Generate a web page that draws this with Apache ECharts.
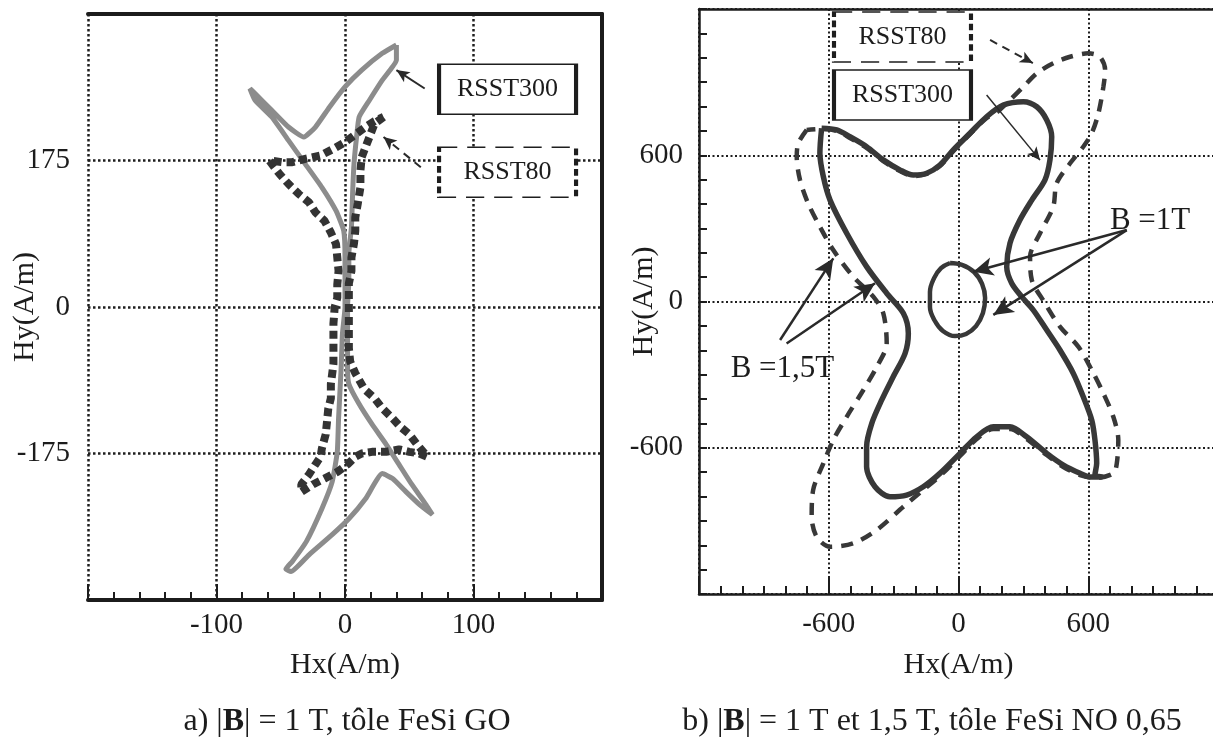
<!DOCTYPE html>
<html><head><meta charset="utf-8">
<script src="https://cdn.jsdelivr.net/npm/echarts@6/dist/echarts.min.js"></script>
<style>html,body{margin:0;padding:0;background:#fff}#c{width:1213px;height:739px}</style>
</head><body><div id="c"></div>
<script>
// ---------- tick labels ----------
const leftXTickLabels = [-100, 0, 100];
const leftYTickLabels = [-175, 0, 175];
const rightXTickLabels = [-600, 0, 600];
const rightYTickLabels = [-600, 0, 600];

// ---------- a) FeSi GO, |B| = 1 T ----------
const goRSST300 = [[40,313],[29,303],[13,283],[0,263],[-12,239],[-23,215],[-32,203],[-44,215],[-57,235],[-70,255],[-74,261],[-70,247],[-57,227],[-44,199],[-31,171],[-18,143],[-7,115],[-1,91],[0,59],[0,31],[0,0],[-2,-32],[-3,-73],[-5,-133],[-6,-173],[-10,-209],[-18,-241],[-30,-280],[-41,-304],[-46,-313],[-42,-316],[-28,-296],[-10,-272],[3,-253],[16,-229],[29,-199],[37,-205],[47,-220],[58,-236],[68,-248],[63,-236],[52,-212],[42,-188],[32,-164],[21,-140],[11,-116],[3,-92],[2,-73],[2,-32],[2,0],[3,31],[3,64],[5,95],[6,139],[7,171],[9,203],[11,227],[19,247],[29,271],[40,295],[40,313]];
const goRSST80 = [[30,227],[23,219],[20,207],[16,191],[13,179],[12,163],[12,143],[10,124],[8,107],[8,91],[7,76],[5,59],[5,43],[3,28],[3,0],[3,-17],[3,-32],[3,-49],[4,-65],[8,-79],[15,-98],[23,-109],[29,-121],[37,-133],[43,-143],[50,-152],[56,-164],[62,-175],[64,-179],[58,-175],[50,-173],[42,-170],[32,-173],[21,-173],[13,-175],[8,-179],[2,-188],[-6,-197],[-16,-205],[-25,-212],[-34,-221],[-34,-212],[-28,-200],[-23,-188],[-19,-179],[-18,-169],[-15,-152],[-14,-137],[-13,-121],[-11,-109],[-11,-92],[-9,-68],[-9,-53],[-9,-37],[-9,-20],[-8,0],[-6,11],[-6,27],[-5,43],[-6,59],[-7,75],[-11,89],[-16,103],[-23,113],[-28,125],[-36,135],[-44,147],[-51,159],[-59,175],[-49,173],[-41,173],[-31,177],[-19,181],[-9,189],[0,197],[8,206],[16,215],[23,222],[30,227]];

// ---------- b) FeSi NO 0,65 ----------
const no15RSST300 = [[-633,711],[-563,704],[-502,676],[-425,635],[-348,581],[-271,540],[-209,519],[-147,526],[-86,560],[-24,622],[53,690],[130,758],[207,806],[300,820],[362,799],[408,745],[431,676],[423,581],[400,499],[339,416],[284,334],[238,239],[223,143],[246,75],[292,20],[346,-35],[408,-117],[469,-199],[531,-295],[577,-391],[616,-486],[631,-568],[639,-664],[631,-712],[662,-719],[608,-720],[562,-705],[485,-671],[408,-623],[315,-555],[238,-514],[161,-514],[84,-555],[7,-623],[-86,-705],[-163,-760],[-240,-794],[-317,-801],[-386,-760],[-425,-678],[-425,-596],[-401,-500],[-355,-404],[-302,-309],[-247,-213],[-232,-131],[-255,-48],[-332,34],[-425,143],[-517,280],[-594,416],[-625,512],[-641,608],[-633,711]];
const no15RSST80 = [[-702,704],[-741,649],[-748,594],[-733,499],[-696,404],[-641,307],[-579,211],[-487,102],[-394,20],[-348,-48],[-332,-172],[-378,-268],[-440,-363],[-517,-473],[-579,-568],[-625,-664],[-672,-773],[-679,-883],[-656,-965],[-594,-1006],[-487,-992],[-378,-937],[-255,-842],[-163,-773],[-86,-716],[7,-634],[84,-564],[161,-523],[238,-523],[315,-564],[408,-630],[485,-679],[562,-712],[631,-724],[716,-705],[732,-664],[739,-568],[716,-473],[670,-377],[616,-281],[554,-185],[469,-103],[400,-7],[339,88],[331,184],[377,280],[438,389],[454,485],[516,567],[577,635],[616,690],[647,772],[670,881],[678,950],[654,1004],[600,1018],[516,1004],[438,977],[362,936],[300,881],[238,827],[178,777],[130,753],[53,687],[-24,617],[-86,556],[-147,523],[-209,515],[-271,535],[-348,576],[-425,630],[-502,671],[-563,700],[-633,708],[-702,704]];
const no10RSST300 = [[-39,158],[16,150],[72,121],[109,72],[123,14],[113,-47],[81,-101],[35,-133],[-16,-142],[-72,-121],[-109,-80],[-132,-23],[-132,39],[-113,96],[-81,137],[-39,158]];

// ---------- annotation placement (data coords) ----------
const notesLeft = [
  {at:[126.5,260], text:'RSST300', dash:false},
  {at:[126.5,161], text:'RSST80', dash:true}
];
const notesRight = [
  {at:[-259,847], text:'RSST300', dash:false},
  {at:[-259,1085], text:'RSST80', dash:true}
];
const bigNotesRight = [
  {at:[886,330], text:'B =1T'},
  {at:[-814,-277], text:'B =1,5T'}
];
const arrowsLeft = [
  {from:[62,261], to:[40,283], dash:false},
  {from:[59,167], to:[30,203], dash:true}
];
const arrowsRight = [
  {from:[146,1073], to:[344,978], dash:true, w:2},
  {from:[130,847], to:[377,580], dash:false, w:1.5},
  {from:[778,293], to:[68,122], dash:false, w:2.5, big:true},
  {from:[778,293], to:[161,-55], dash:false, w:2.5, big:true},
  {from:[-825,-158], to:[-579,177], dash:false, w:2.5, big:true},
  {from:[-795,-172], to:[-386,75], dash:false, w:2.5, big:true}
];

const FONT = 'Liberation Serif';
const INK = '#1c1c1c';
const CURVE = '#383838';
const lbl = list => v => (list.indexOf(v) >= 0 ? String(v) : '');

function boxPoint(n) {
  return {
    coord: n.at, symbol: 'rect', symbolSize: [137, 50],
    itemStyle: {color: '#fff', borderColor: '#1e1e1e', borderWidth: 2.5,
      borderType: n.dash ? [11, 6] : 'solid'},
    label: {show: true, position: 'inside', formatter: n.text, fontFamily: FONT,
      fontSize: 26, color: INK, textBorderWidth: 0}
  };
}
function bigPoint(n) {
  return {
    coord: n.at, symbol: 'rect', symbolSize: [1, 1], itemStyle: {color: 'rgba(255,255,255,0)', borderWidth: 0},
    label: {show: true, position: 'inside', formatter: n.text, fontFamily: FONT,
      fontSize: 31, color: INK, textBorderWidth: 0}
  };
}
function markPts(list) {
  return {silent: true, animation: false, emphasis: {disabled: true}, data: list};
}
function arrowItem(a) {
  return [
    {coord: a.from, symbol: 'none'},
    {coord: a.to, symbol: 'arrow', symbolSize: a.big ? [14, 20] : [9, 13],
     lineStyle: {type: a.dash ? [8, 6] : 'solid', width: a.w || 2, color: '#2a2a2a'}}
  ];
}
function markArrows(list) {
  return { silent: true, animation: false, symbol: ['none', 'arrow'], label: {show: false},
    lineStyle: {color: '#2a2a2a', width: 2, type: 'solid'}, emphasis: {disabled: true},
    data: list.map(arrowItem) };
}

const axisFont = {fontFamily: FONT, fontSize: 29, color: INK};
const nameFont = {fontFamily: FONT, fontSize: 30, color: INK};

const option = {
  animation: false,
  grid: [
    {left: 88, top: 14, width: 514, height: 586, outerBoundsMode: 'none', containLabel: false},
    {left: 699, top: 9, width: 519, height: 585, outerBoundsMode: 'none', containLabel: false}
  ],
  xAxis: [
    {gridIndex: 0, type: 'value', min: -200, max: 200, interval: 100, position: 'bottom',
     axisLine: {onZero: false, lineStyle: {color: INK, width: 4}},
     axisTick: {inside: true, length: 16, lineStyle: {color: INK, width: 2}},
     minorTick: {show: true, splitNumber: 5, length: 8, lineStyle: {color: INK, width: 2}},
     splitLine: {show: true, lineStyle: {type: [2.5, 2.5], width: 2.5, color: '#1e1e1e'}},
     axisLabel: Object.assign({formatter: lbl(leftXTickLabels), margin: 11}, axisFont),
     name: 'Hx(A/m)', nameLocation: 'middle', nameGap: 50, nameMoveOverlap: false, nameTextStyle: nameFont},
    {gridIndex: 1, type: 'value', min: -1200, max: 1200, interval: 600, position: 'bottom',
     axisLine: {onZero: false, lineStyle: {color: INK, width: 2.5}},
     axisTick: {inside: true, length: 16, lineStyle: {color: INK, width: 2}},
     minorTick: {show: true, splitNumber: 6, length: 8, lineStyle: {color: INK, width: 2}},
     splitLine: {show: true, lineStyle: {type: [2, 2.5], width: 2, color: '#1e1e1e'}},
     axisLabel: Object.assign({formatter: lbl(rightXTickLabels), margin: 16}, axisFont),
     name: 'Hx(A/m)', nameLocation: 'middle', nameGap: 56, nameMoveOverlap: false, nameTextStyle: nameFont},
    {gridIndex: 0, type: 'value', min: -200, max: 200, position: 'top',
     axisLine: {onZero: false, lineStyle: {color: INK, width: 4}}, axisTick: {show: false},
     axisLabel: {show: false}, splitLine: {show: false}},
    {gridIndex: 1, type: 'value', min: -1200, max: 1200, position: 'top',
     axisLine: {onZero: false, lineStyle: {color: INK, width: 2.5}}, axisTick: {show: false},
     axisLabel: {show: false}, splitLine: {show: false}}
  ],
  yAxis: [
    {gridIndex: 0, type: 'value', min: -350, max: 350, interval: 175, position: 'left',
     axisLine: {show: false, onZero: false}, axisTick: {show: false},
     splitLine: {show: true, lineStyle: {type: [2.5, 2.5], width: 2.5, color: '#1e1e1e'}},
     axisLabel: Object.assign({formatter: lbl(leftYTickLabels), margin: 18}, axisFont),
     name: 'Hy(A/m)', nameLocation: 'middle', nameGap: 48, nameRotate: 90, nameMoveOverlap: false, nameTextStyle: nameFont},
    {gridIndex: 1, type: 'value', min: -1200, max: 1200, interval: 600, position: 'left',
     axisLine: {show: true, onZero: false, lineStyle: {color: INK, width: 2.5}},
     axisTick: {show: true, inside: true, length: 8, lineStyle: {color: INK, width: 2}},
     minorTick: {show: true, splitNumber: 6, length: 8, lineStyle: {color: INK, width: 2}},
     splitLine: {show: true, lineStyle: {type: [2, 2.5], width: 2, color: '#1e1e1e'}},
     axisLabel: Object.assign({formatter: lbl(rightYTickLabels), margin: 16}, axisFont),
     name: 'Hy(A/m)', nameLocation: 'middle', nameGap: 40, nameRotate: 90, nameMoveOverlap: false, nameTextStyle: nameFont},
    {gridIndex: 0, type: 'value', min: -350, max: 350, position: 'right',
     axisLine: {show: true, onZero: false, lineStyle: {color: INK, width: 4}}, axisTick: {show: false},
     axisLabel: {show: false}, splitLine: {show: false}}
  ],
  series: [
    {name: 'RSST300 GO', type: 'line', xAxisIndex: 0, yAxisIndex: 0, data: goRSST300,
     showSymbol: false, symbol: 'none', smooth: 0.15, z: 3,
     lineStyle: {color: '#8c8c8c', width: 5}},
    {name: 'RSST80 GO', type: 'line', xAxisIndex: 0, yAxisIndex: 0, data: goRSST80,
     showSymbol: false, symbol: 'none', z: 4,
     lineStyle: {color: '#333', width: 8, type: [8, 5]},
     markLine: markArrows(arrowsLeft),
     markPoint: markPts(notesLeft.map(boxPoint))},
    {name: 'RSST300 1,5T', type: 'line', xAxisIndex: 1, yAxisIndex: 1, data: no15RSST300,
     showSymbol: false, symbol: 'none', smooth: 0.3, z: 3,
     lineStyle: {color: CURVE, width: 5.5}},
    {name: 'RSST80 1,5T', type: 'line', xAxisIndex: 1, yAxisIndex: 1, data: no15RSST80,
     showSymbol: false, symbol: 'none', smooth: 0.3, z: 4,
     lineStyle: {color: CURVE, width: 4.5, type: [12, 9]},
     markLine: markArrows(arrowsRight),
     markPoint: markPts(notesRight.map(boxPoint).concat(bigNotesRight.map(bigPoint)))},
    {name: 'RSST300 1T', type: 'line', xAxisIndex: 1, yAxisIndex: 1, data: no10RSST300,
     showSymbol: false, symbol: 'none', smooth: 0.4, z: 3,
     lineStyle: {color: CURVE, width: 4.5}}
  ],
  graphic: [
    {type: 'text', x: 347, y: 722, silent: true,
     style: {text: '{n|a) |}{b|B}{n|| = 1 T, tôle FeSi GO}', textAlign: 'center', align: 'center',
       textVerticalAlign: 'middle', verticalAlign: 'middle', fill: INK,
       rich: {n: {fontFamily: FONT, fontSize: 32, fill: INK, color: INK},
              b: {fontFamily: FONT, fontSize: 32, fontWeight: 'bold', fill: INK, color: INK}}}},
    {type: 'text', x: 932, y: 722, silent: true,
     style: {text: '{n|b) |}{b|B}{n|| = 1 T et 1,5 T, tôle FeSi NO 0,65}', textAlign: 'center', align: 'center',
       textVerticalAlign: 'middle', verticalAlign: 'middle', fill: INK,
       rich: {n: {fontFamily: FONT, fontSize: 32, fill: INK, color: INK},
              b: {fontFamily: FONT, fontSize: 32, fontWeight: 'bold', fill: INK, color: INK}}}}
  ]
};
const chart = echarts.init(document.getElementById('c'), null, {renderer: 'canvas'});
chart.setOption(option);
</script>
</body></html>
